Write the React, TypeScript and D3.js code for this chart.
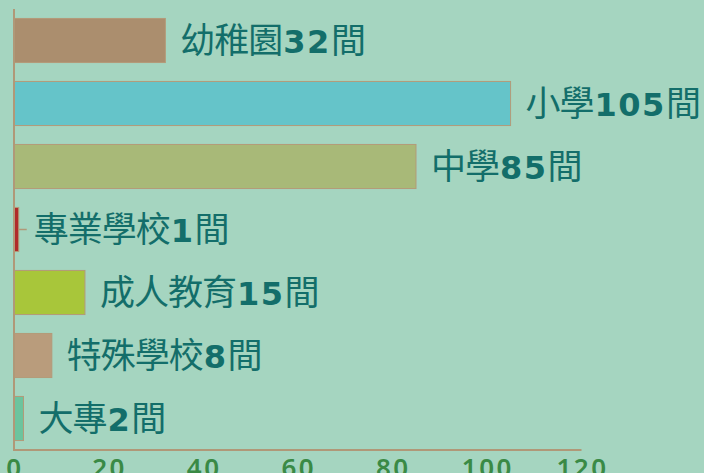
import React from "react";
import * as d3 from "d3";

const categories = ["幼稚園", "小學", "中學", "專業學校", "成人教育", "特殊學校", "大專"];
const values = [32, 105, 85, 1, 15, 8, 2];
const colors = ["#ab8e6e", "#65c4c9", "#a8b978", "#b02a2a", "#a8c63a", "#b99c7c", "#6cc49e"];
const ticks = [0, 20, 40, 60, 80, 100, 120];
const unit = "間";

const W = 704;
const H = 473;

export default function App() {
  const x = d3.scaleLinear().domain([0, 120]).range([14, 581.5]);
  const y = d3
    .scaleBand<string>()
    .domain(categories)
    .range([9, 450])
    .paddingInner(0.3)
    .paddingOuter(0.15);
  const axisColor = "#b09878";
  const textColor = "#136e6a";
  return (
    <svg
      width={W}
      height={H}
      style={{ position: "absolute", left: 0, top: 0, background: "#a5d5c0" }}
    >
      <rect x={0} y={0} width={W} height={H} fill="#a5d5c0" />
      {categories.map((c, i) => {
        const y0 = y(c)!;
        const bh = y.bandwidth();
        const x1 = x(values[i]);
        return (
          <g key={c}>
            <rect
              x={x(0)}
              y={y0}
              width={x1 - x(0)}
              height={bh}
              fill={colors[i]}
              stroke="#b49a78"
              strokeWidth={1}
            />
            {values[i] < 2 && (
              <line
                x1={x1}
                x2={x1 + 8}
                y1={y0 + bh / 2}
                y2={y0 + bh / 2}
                stroke={axisColor}
                strokeWidth={1.5}
              />
            )}
            <text
              x={x1 + 15}
              y={y0 + bh / 2 + 12}
              fill={textColor}
              fontFamily="'Noto Sans CJK TC', 'Noto Sans', sans-serif"
              fontSize={35}
              letterSpacing={-1}
            >
              {c}
              <tspan
                fontFamily="'DejaVu Sans', sans-serif"
                fontWeight={700}
                fontSize={32}
                letterSpacing={1.5}
                dx={1}
              >
                {values[i]}
              </tspan>
              {unit}
            </text>
          </g>
        );
      })}
      <line x1={x(0)} x2={x(0)} y1={9} y2={451} stroke={axisColor} strokeWidth={2} />
      <line x1={x(0) - 1} x2={x(120)} y1={450} y2={450} stroke={axisColor} strokeWidth={2} />
      {ticks.map((t) => (
        <text
          key={t}
          x={x(t) + 1}
          y={477}
          textAnchor="middle"
          fill="#3a8a45"
          fontFamily="'Noto Sans', sans-serif"
          fontWeight={600}
          fontSize={26}
          letterSpacing={2.5}
        >
          {t}
        </text>
      ))}
    </svg>
  );
}
